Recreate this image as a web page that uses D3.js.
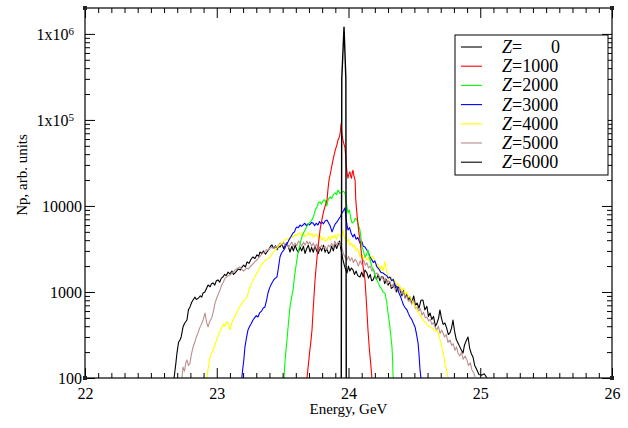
<!DOCTYPE html>
<html>
<head>
<meta charset="utf-8">
<script src="https://cdn.jsdelivr.net/npm/d3@7"></script>
<style>
  body { margin: 0; background: #fff; }
  text { font-family: "Liberation Serif", "Times New Roman", serif; }
</style>
</head>
<body>
<script>
// spectra: [energy GeV, Np]
var z0 = [[23.945,100],[23.949,300000],[23.966,1200000],[23.98,300000],[23.983,100]];
var z1000 = [[23.685,100],[23.695,140],[23.705,200],[23.715,270],[23.723,361],[23.735,750],[23.746,1380],[23.755,2000],[23.765,2900],[23.775,4000],[23.784,5260],[23.797,6800],[23.81,8500],[23.823,10000],[23.837,11750],[23.845,16000],[23.852,20000],[23.863,24000],[23.875,30000],[23.887,37000],[23.9,45000],[23.91,50000],[23.92,58000],[23.93,63000],[23.937,70000],[23.943,90000],[23.95,68000],[23.958,58000],[23.966,52000],[23.973,48000],[23.98,36000],[23.985,28000],[23.99,24000],[23.996,21000],[24.004,24000],[24.011,25000],[24.017,22000],[24.023,21000],[24.028,24000],[24.034,26000],[24.042,22000],[24.05,20000],[24.055,12000],[24.06,9500],[24.068,7000],[24.078,5000],[24.087,4000],[24.097,2900],[24.11,2000],[24.125,1380],[24.135,800],[24.148,361],[24.158,220],[24.168,150],[24.178,100]];
var z2000 = [[23.51,100],[23.52,170],[23.533,277],[23.545,450],[23.556,670],[23.567,850],[23.579,1055],[23.59,1500],[23.605,2200],[23.617,2840],[23.63,3500],[23.645,4300],[23.658,4800],[23.67,5260],[23.685,5800],[23.7,6300],[23.71,6500],[23.723,6870],[23.735,7600],[23.748,9000],[23.761,9730],[23.772,11000],[23.784,11140],[23.795,10500],[23.81,11700],[23.822,11750],[23.835,10000],[23.847,12000],[23.86,12730],[23.872,12200],[23.885,13500],[23.898,14160],[23.91,13500],[23.92,15350],[23.935,14000],[23.951,14550],[23.962,14800],[23.973,14160],[23.983,11000],[23.996,8290],[24.007,9000],[24.017,7200],[24.027,6340],[24.04,6500],[24.052,7200],[24.064,6870],[24.075,6000],[24.087,5260],[24.095,4200],[24.102,3336],[24.113,3000],[24.125,2553],[24.137,2700],[24.148,3077],[24.16,2500],[24.17,2200],[24.178,1954],[24.19,1800],[24.2,1550],[24.216,1380],[24.228,1250],[24.239,1143],[24.25,1100],[24.262,1000],[24.277,973],[24.29,760],[24.3,570],[24.312,420],[24.322,300],[24.33,229],[24.335,160],[24.338,108],[24.34,100]];
var z3000 = [[23.19,100],[23.198,130],[23.205,160],[23.214,229],[23.225,290],[23.237,361],[23.25,400],[23.262,430],[23.275,472],[23.287,500],[23.3,530],[23.313,512],[23.325,570],[23.34,600],[23.353,650],[23.366,670],[23.378,800],[23.389,973],[23.4,1100],[23.41,1200],[23.419,1273],[23.432,1380],[23.445,1450],[23.457,1494],[23.468,1900],[23.48,2553],[23.49,2800],[23.5,2950],[23.51,3100],[23.518,3250],[23.53,3600],[23.54,3800],[23.548,4025],[23.56,4300],[23.57,4600],[23.579,4856],[23.59,5000],[23.6,5500],[23.609,5700],[23.62,5600],[23.632,6000],[23.643,5800],[23.655,6010],[23.668,6300],[23.68,5900],[23.693,6200],[23.705,6000],[23.718,6400],[23.731,6340],[23.743,5900],[23.755,6300],[23.768,6000],[23.78,6600],[23.79,6200],[23.799,6510],[23.81,6200],[23.822,6700],[23.837,6870],[23.85,6300],[23.862,5800],[23.875,5000],[23.887,5600],[23.9,6200],[23.913,6510],[23.925,7000],[23.938,7500],[23.951,8290],[23.962,8800],[23.973,9480],[23.982,7000],[23.989,6000],[23.996,5260],[24.008,5600],[24.02,4800],[24.034,4365],[24.045,4700],[24.058,4100],[24.07,4300],[24.087,3715],[24.1,3900],[24.112,3400],[24.125,3336],[24.138,3100],[24.15,2900],[24.163,2553],[24.175,2400],[24.188,2200],[24.2,2300],[24.216,1954],[24.23,1850],[24.245,1700],[24.262,1663],[24.275,1600],[24.29,1550],[24.3,1450],[24.315,1494],[24.328,1350],[24.34,1400],[24.353,1200],[24.368,1143],[24.38,1000],[24.393,900],[24.405,800],[24.418,700],[24.432,650],[24.444,618],[24.455,560],[24.467,512],[24.48,480],[24.493,430],[24.505,392],[24.515,330],[24.528,255],[24.535,190],[24.543,124],[24.55,100]];
var z4000 = [[22.926,100],[22.935,130],[22.949,175],[22.96,190],[22.972,210],[22.985,240],[22.997,270],[23.009,300],[23.02,340],[23.03,360],[23.04,392],[23.052,420],[23.063,400],[23.075,450],[23.085,436],[23.093,400],[23.101,361],[23.112,420],[23.123,472],[23.135,520],[23.148,560],[23.161,618],[23.175,680],[23.192,745],[23.205,800],[23.218,830],[23.23,875],[23.24,1000],[23.252,1143],[23.265,1250],[23.278,1400],[23.29,1500],[23.305,1663],[23.318,1800],[23.33,1950],[23.342,2100],[23.351,2175],[23.365,2300],[23.378,2400],[23.39,2450],[23.404,2553],[23.418,2750],[23.43,2900],[23.442,3077],[23.455,3200],[23.468,3400],[23.48,3550],[23.495,3715],[23.508,3900],[23.52,4050],[23.533,4200],[23.545,4100],[23.556,4365],[23.57,4500],[23.582,4300],[23.595,4700],[23.607,4500],[23.62,4800],[23.632,4856],[23.645,4500],[23.658,4900],[23.67,4400],[23.685,4604],[23.697,4900],[23.71,4500],[23.722,4800],[23.735,4300],[23.748,4700],[23.761,4604],[23.773,4200],[23.786,4500],[23.798,4000],[23.81,4300],[23.822,3900],[23.837,4025],[23.85,4400],[23.862,4000],[23.873,4500],[23.882,4246],[23.895,4600],[23.908,4100],[23.92,4700],[23.935,4604],[23.947,4200],[23.958,5260],[23.968,4300],[23.979,4000],[23.989,3815],[24.0,4100],[24.012,3500],[24.022,3700],[24.034,3336],[24.046,3500],[24.058,3000],[24.07,3200],[24.087,2553],[24.1,2800],[24.112,2400],[24.125,2600],[24.14,2355],[24.152,2500],[24.165,2250],[24.175,2600],[24.186,2553],[24.2,2300],[24.212,2000],[24.225,2100],[24.239,1803],[24.25,2000],[24.262,1750],[24.277,2260],[24.29,1700],[24.303,1500],[24.315,1380],[24.327,1500],[24.34,1300],[24.353,1350],[24.365,1200],[24.378,1250],[24.391,1143],[24.405,1050],[24.418,1100],[24.43,950],[24.443,1000],[24.455,880],[24.467,875],[24.48,800],[24.495,720],[24.508,680],[24.52,618],[24.533,560],[24.545,540],[24.555,500],[24.565,472],[24.58,450],[24.595,420],[24.607,400],[24.619,392],[24.632,380],[24.645,370],[24.66,350],[24.672,361],[24.685,320],[24.697,270],[24.71,229],[24.72,190],[24.732,149],[24.745,120],[24.755,103]];
var z5000 = [[22.736,100],[22.744,134],[22.755,120],[22.765,150],[22.774,162],[22.785,140],[22.797,149],[22.808,190],[22.82,229],[22.833,260],[22.845,300],[22.858,334],[22.87,380],[22.883,420],[22.896,472],[22.904,520],[22.911,570],[22.922,450],[22.934,392],[22.945,450],[22.955,480],[22.964,512],[22.975,600],[22.987,745],[23.0,850],[23.012,950],[23.025,1055],[23.037,1200],[23.05,1300],[23.063,1450],[23.075,1500],[23.088,1550],[23.101,1577],[23.113,1650],[23.126,1700],[23.139,1803],[23.15,1850],[23.163,1900],[23.176,1954],[23.19,1850],[23.202,1750],[23.214,1803],[23.227,1900],[23.24,1850],[23.252,1954],[23.265,2050],[23.278,2150],[23.29,2250],[23.305,2355],[23.318,2500],[23.33,2600],[23.342,2750],[23.351,2840],[23.365,2950],[23.378,3100],[23.39,3050],[23.404,3250],[23.418,3300],[23.43,3200],[23.445,3400],[23.457,3336],[23.47,3500],[23.48,3715],[23.495,3500],[23.507,3800],[23.52,3400],[23.533,3650],[23.545,3300],[23.556,3520],[23.57,3800],[23.582,3400],[23.595,3700],[23.607,3450],[23.62,3900],[23.632,3715],[23.645,3400],[23.658,3800],[23.67,3500],[23.683,3900],[23.695,3600],[23.708,3815],[23.72,3400],[23.733,3700],[23.746,3300],[23.758,3600],[23.771,3100],[23.784,3250],[23.796,3500],[23.81,3200],[23.822,3400],[23.835,3100],[23.848,3500],[23.86,3336],[23.872,3700],[23.885,3300],[23.897,3900],[23.91,3500],[23.922,3800],[23.935,3715],[23.95,3200],[23.965,2700],[23.977,2500],[23.989,2355],[24.0,2600],[24.012,2300],[24.025,2500],[24.037,2200],[24.05,2400],[24.064,2235],[24.075,2000],[24.088,2300],[24.1,2100],[24.115,2350],[24.127,2050],[24.14,2175],[24.152,1900],[24.165,2000],[24.178,1750],[24.19,1850],[24.203,1600],[24.216,1663],[24.23,1550],[24.243,1450],[24.255,1500],[24.268,1350],[24.28,1450],[24.293,1250],[24.305,1350],[24.315,1300],[24.328,1150],[24.34,1250],[24.355,1050],[24.368,1150],[24.38,1000],[24.391,1143],[24.405,950],[24.418,1000],[24.43,850],[24.443,900],[24.455,780],[24.467,807],[24.48,720],[24.495,800],[24.508,640],[24.52,670],[24.533,600],[24.545,640],[24.558,540],[24.57,580],[24.583,500],[24.596,512],[24.608,460],[24.62,480],[24.633,420],[24.645,440],[24.657,392],[24.67,360],[24.682,400],[24.695,330],[24.707,360],[24.717,334],[24.73,300],[24.742,320],[24.755,260],[24.77,277],[24.783,240],[24.795,250],[24.808,210],[24.82,230],[24.831,195],[24.845,180],[24.858,200],[24.87,165],[24.885,180],[24.899,162],[24.91,140],[24.925,150],[24.937,124],[24.95,115],[24.96,103]];
var z6000 = [[22.676,100],[22.69,150],[22.698,195],[22.71,260],[22.721,277],[22.73,300],[22.744,392],[22.755,430],[22.774,472],[22.785,620],[22.797,670],[22.81,760],[22.82,807],[22.835,870],[22.845,820],[22.858,840],[22.875,900],[22.886,870],[22.896,973],[22.91,1000],[22.922,1100],[22.934,1205],[22.95,1150],[22.96,1250],[22.972,1273],[22.985,1200],[22.997,1350],[23.009,1380],[23.022,1300],[23.035,1450],[23.047,1494],[23.06,1600],[23.072,1550],[23.085,1700],[23.1,1620],[23.115,1750],[23.127,1600],[23.139,1663],[23.15,1750],[23.165,1850],[23.18,1800],[23.192,1954],[23.205,2050],[23.218,1950],[23.23,2235],[23.245,2150],[23.26,2400],[23.275,2553],[23.29,2450],[23.305,2700],[23.318,2600],[23.328,2917],[23.342,2800],[23.355,3000],[23.37,2750],[23.381,2917],[23.395,3100],[23.408,3400],[23.419,3520],[23.432,3200],[23.445,3450],[23.458,3100],[23.47,3400],[23.48,3336],[23.495,3600],[23.507,3200],[23.52,3500],[23.533,3715],[23.545,3300],[23.556,2917],[23.57,3400],[23.582,3000],[23.595,3500],[23.607,3100],[23.62,2900],[23.632,3336],[23.645,3000],[23.658,3400],[23.67,2800],[23.683,3200],[23.695,3500],[23.708,2917],[23.72,3300],[23.733,2900],[23.746,3450],[23.758,3000],[23.771,2800],[23.784,3336],[23.796,3000],[23.81,3500],[23.822,2900],[23.835,3200],[23.848,2800],[23.86,2917],[23.872,3400],[23.885,3000],[23.897,3600],[23.91,3200],[23.92,3520],[23.932,3900],[23.945,3000],[23.958,2355],[23.97,2000],[23.98,1800],[23.989,1663],[24.0,2000],[24.01,1750],[24.022,1900],[24.034,1803],[24.045,1600],[24.058,1750],[24.07,1550],[24.087,1494],[24.1,1700],[24.112,1500],[24.125,1800],[24.14,1663],[24.152,1450],[24.165,1600],[24.176,1350],[24.186,1380],[24.2,1550],[24.212,1400],[24.225,1600],[24.238,1350],[24.25,1500],[24.262,1494],[24.275,1250],[24.288,1400],[24.3,1200],[24.315,1300],[24.325,1100],[24.338,1143],[24.35,1250],[24.363,1000],[24.375,1150],[24.391,1055],[24.405,900],[24.418,1050],[24.43,850],[24.445,950],[24.455,800],[24.467,875],[24.48,750],[24.495,900],[24.508,700],[24.52,745],[24.535,650],[24.55,800],[24.565,807],[24.58,620],[24.595,680],[24.607,520],[24.619,570],[24.632,480],[24.645,520],[24.66,400],[24.672,436],[24.684,500],[24.694,618],[24.705,500],[24.718,420],[24.732,436],[24.745,380],[24.758,320],[24.77,334],[24.782,380],[24.793,472],[24.805,350],[24.818,280],[24.831,255],[24.845,230],[24.857,210],[24.869,195],[24.88,240],[24.893,270],[24.907,300],[24.92,220],[24.933,190],[24.945,175],[24.958,140],[24.975,124],[24.99,110],[25.013,108],[25.03,112],[25.051,100]];

var zLabels = ["0", "1000", "2000", "3000", "4000", "5000", "6000"];
var colors = ["#000000", "#ff0000", "#00ff00", "#0000ff", "#ffff00", "#bc8f8f", "#000000"];
var xTicks = [22, 23, 24, 25, 26];
var yTicks = [100, 1000, 10000, 1e5, 1e6];

var series = [z0, z1000, z2000, z3000, z4000, z5000, z6000];

var width = 628, height = 428;
var pL = 85, pT = 8, pR = 612, pB = 378;

var svg = d3.select("body").append("svg").attr("width", width).attr("height", height);

var x = d3.scaleLinear().domain([22, 26]).range([pL, pR]);
var y = d3.scaleLog().domain([100, 2e6]).range([pB, pT]);

svg.append("clipPath").attr("id", "clip")
  .append("rect").attr("x", pL).attr("y", pT).attr("width", pR - pL).attr("height", pB - pT);

var line = d3.line()
  .x(function (d) { return x(d[0]); })
  .y(function (d) { return y(d[1]); });

// draw back to front so the black spike is on top like the original
var order = [6, 5, 4, 3, 2, 1, 0];
svg.append("g").attr("clip-path", "url(#clip)")
  .selectAll("path")
  .data(order)
  .enter()
  .append("path")
  .attr("d", function (i) { return line(series[i]); })
  .attr("fill", "none")
  .attr("stroke", function (i) { return colors[i]; })
  .attr("stroke-width", function (i) { return i == 0 ? 1.4 : 1.1; })
  .attr("stroke-linejoin", "round");

// minor ticks
var xMinor = d3.range(22, 26.001, 0.1).map(function (v) { return Math.round(v * 10) / 10; })
  .filter(function (v) { return xTicks.indexOf(v) < 0; });
var yMinor = [];
yTicks.forEach(function (t) {
  for (var k = 2; k <= 9; k++) if (t * k < 2e6) yMinor.push(t * k);
});

function styleAxis(g) {
  g.select(".domain").remove();
  g.selectAll("line").attr("stroke", "#000");
  g.selectAll("text").attr("fill", "#000").attr("font-family", "Liberation Serif, serif");
}

// bottom
svg.append("g").attr("transform", "translate(0," + pB + ")")
  .call(d3.axisBottom(x).tickValues(xTicks).tickSizeInner(-10).tickSizeOuter(0).tickPadding(10)
    .tickFormat(d3.format("d")))
  .call(styleAxis)
  .selectAll("text").attr("font-size", 16);
svg.append("g").attr("transform", "translate(0," + pB + ")")
  .call(d3.axisBottom(x).tickValues(xMinor).tickSizeInner(-5).tickSizeOuter(0).tickFormat(""))
  .call(styleAxis);
// top
svg.append("g").attr("transform", "translate(0," + pT + ")")
  .call(d3.axisTop(x).tickValues(xTicks).tickSizeInner(-10).tickSizeOuter(0).tickFormat(""))
  .call(styleAxis);
svg.append("g").attr("transform", "translate(0," + pT + ")")
  .call(d3.axisTop(x).tickValues(xMinor).tickSizeInner(-5).tickSizeOuter(0).tickFormat(""))
  .call(styleAxis);
// left
var yl = svg.append("g").attr("transform", "translate(" + pL + ",0)")
  .call(d3.axisLeft(y).tickValues(yTicks).tickSizeInner(-10).tickSizeOuter(0).tickPadding(3)
    .tickFormat(function (d) { return d; }))
  .call(styleAxis);
yl.selectAll("text").attr("font-size", 16).each(function (d) {
  if (d >= 1e5) {
    var t = d3.select(this);
    t.text("1x10").attr("x", -11);
    t.append("tspan").attr("dy", "-0.45em").attr("font-size", 11).text(Math.round(Math.log10(d)));
  }
});
svg.append("g").attr("transform", "translate(" + pL + ",0)")
  .call(d3.axisLeft(y).tickValues(yMinor).tickSizeInner(-5).tickSizeOuter(0).tickFormat(""))
  .call(styleAxis);
// right
svg.append("g").attr("transform", "translate(" + pR + ",0)")
  .call(d3.axisRight(y).tickValues(yTicks).tickSizeInner(-10).tickSizeOuter(0).tickFormat(""))
  .call(styleAxis);
svg.append("g").attr("transform", "translate(" + pR + ",0)")
  .call(d3.axisRight(y).tickValues(yMinor).tickSizeInner(-5).tickSizeOuter(0).tickFormat(""))
  .call(styleAxis);

// frame
svg.append("rect")
  .attr("x", pL).attr("y", pT).attr("width", pR - pL).attr("height", pB - pT)
  .attr("fill", "none").attr("stroke", "#000").attr("stroke-width", 1.2);
[[pL, pT], [pR, pT], [pL, pB], [pR, pB]].forEach(function (c) {
  svg.append("rect").attr("x", c[0] - 2).attr("y", c[1] - 2).attr("width", 4).attr("height", 4)
    .attr("fill", "#222");
});

// axis titles
svg.append("text")
  .attr("x", (pL + pR) / 2).attr("y", 414)
  .attr("text-anchor", "middle").attr("font-size", 15)
  .text("Energy, GeV");
svg.append("text")
  .attr("transform", "translate(27," + ((pT + pB) / 2 - 18) + ") rotate(-90)")
  .attr("text-anchor", "middle").attr("font-size", 15)
  .text("Np, arb. units");

// legend
var leg = svg.append("g").attr("id", "legend");
leg.append("rect")
  .attr("x", 455).attr("y", 35).attr("width", 153).attr("height", 140)
  .attr("fill", "#fff").attr("stroke", "#000").attr("stroke-width", 1);
var items = leg.selectAll("g.item")
  .data(zLabels)
  .enter()
  .append("g")
  .attr("class", "item")
  .attr("transform", function (d, i) { return "translate(0," + (47 + i * 19.2) + ")"; });
items.append("line")
  .attr("x1", 461).attr("x2", 482)
  .attr("stroke", function (d, i) { return colors[i]; })
  .attr("stroke-width", 1.1);
var lt = items.append("text").attr("x", 502).attr("y", 6).attr("font-size", 18);
lt.append("tspan").attr("font-style", "italic").text("Z");
lt.append("tspan").text(function (d) { return d == "0" ? "=" : "=" + d; });
items.filter(function (d) { return d == "0"; })
  .append("text")
  .attr("x", 560).attr("y", 6).attr("font-size", 18).attr("text-anchor", "end")
  .text(function (d) { return d; });
</script>
</body>
</html>
